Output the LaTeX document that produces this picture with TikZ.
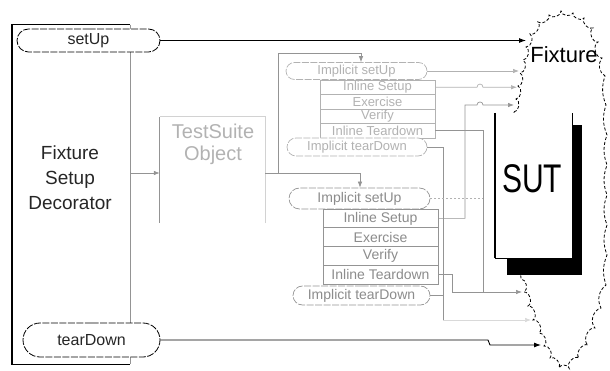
\documentclass[tikz,border=0pt]{standalone}
\usepackage{fontspec}
\setmainfont{Liberation Sans}
\usetikzlibrary{shapes.misc,arrows.meta}
\definecolor{lg}{gray}{0.70}
\definecolor{mg}{gray}{0.58}
\definecolor{ltxt}{gray}{0.70}
\definecolor{mtxt}{gray}{0.55}
\begin{document}
\begin{tikzpicture}[x=1pt,y=-1pt,
  pill/.style={shape=rounded rectangle, draw, dash pattern=on 7pt off 1.5pt, fill=white, inner sep=0pt},
  bigpill/.style={pill, draw=black, line width=0.8pt, text=black!85, font=\fontsize{16}{16}\selectfont},
  pillA/.style={pill, draw=lg, line width=0.7pt, text=ltxt, font=\fontsize{13}{13}\selectfont},
  pillB/.style={pill, draw=mg, line width=0.7pt, text=mtxt, font=\fontsize{14}{14}\selectfont},
  rowA/.style={draw=lg, line width=0.7pt, fill=white, text=ltxt, minimum width=115, minimum height=14.5, inner sep=0pt, font=\fontsize{13}{13}\selectfont},
  rowB/.style={draw=mg, line width=0.7pt, fill=white, text=mtxt, minimum width=115, minimum height=18.75, inner sep=0pt, font=\fontsize{14}{14}\selectfont},
  gconn/.style={draw=mg, line width=0.7pt},
  lconn/.style={draw=lg, line width=0.7pt},
  gtip/.style={-{Latex[length=6pt,width=4.5pt]}},
  ktip/.style={-{Latex[length=7pt,width=5pt]}},
  cloudl/.style={draw=black, line width=0.8pt, dash pattern=on 3pt off 2pt},
  sc/.style={bend right=80}
]
\useasboundingbox (0,0) rectangle (610,371);

% cloud (Fixture)
\draw[cloudl] (514,112) to[sc] (516,99) to[sc] (518,86) to[sc] (520,73)
 to[sc] (523,60) to[sc] (526,47) to[sc] (530,34) to[sc] (538,22)
 to[sc] (549,15) to[sc] (561,11) to[sc] (573,13) to[sc] (584,18)
 to[sc] (593,28) to[sc] (598,42) to[sc] (602,58) to[bend right=50] (605,76)
 to[bend right=20] (606,105) to[bend right=20] (607,135) to[bend right=20] (607,165) to[bend right=20] (607,195)
 to[bend right=20] (607,225) to[bend right=20] (607,255) to[bend right=20] (606,285) to[bend right=40] (601,308)
 to[bend right=60] (595,328) to[sc] (588,345) to[sc] (579,358) to[sc] (569,368)
 to[sc] (559,368) to[sc] (550,358) to[sc] (544,346) to[sc] (539,333)
 to[sc] (533,320) to[sc] (528,306) to[sc] (524,292) to[sc] (521,279)
 -- (516,200) -- cycle;

% SUT
\fill[black] (507,125) rectangle (582,275);
\node[fill=white, minimum width=77, minimum height=145, inner sep=0pt] (sut) at (533.5,185.5) {};
\draw[line width=1.4pt] (sut.north west) -- (sut.south west);
\draw[line width=0.6pt] (sut.south west) -- (sut.south east) -- (sut.north east);
\node[font=\fontsize{40}{40}\selectfont, inner sep=0pt] (sutt) at (532,179) {\scalebox{0.75}[1]{SUT}};
\node[font=\fontsize{22}{22}\selectfont, inner sep=0pt] (fixt) at (564,55) {Fixture};

% Fixture Setup Decorator frame
\node[minimum width=118, minimum height=339, inner sep=0pt] (fsd) at (71,194.5) {};
\draw[mg, line width=0.7pt] (fsd.north east) -- (fsd.south east);
\draw[line width=1.4pt] (fsd.north east) -- (fsd.north west) -- (fsd.south west) -- (fsd.south east);
\node[align=center, font=\fontsize{19}{25}\selectfont, text=black!85] (fsdt) at (70,178) {Fixture\\Setup\\Decorator};
\node[bigpill, minimum width=143, minimum height=23] (setup) at (88.5,40.5) {setUp};
\node[bigpill, minimum width=137, minimum height=34] (teardown) at (91.5,340) {tearDown};

% TestSuite Object
\node[minimum width=105, minimum height=106, inner sep=0pt] (ts) at (212.5,170) {};
\draw[draw=gray!35, line width=0.7pt] (ts.south east) -- (ts.north east) -- (ts.north west);
\draw[mg, line width=1.1pt] (ts.north west) -- (ts.south west);
\node[text=ltxt, align=center, font=\fontsize{20}{22}\selectfont] (tst) at (213,144.5) {TestSuite\\Object};

% first test
\node[rowA] (r1a) at (377.5,87.25) {Inline Setup};
\node[rowA] (r1b) at (377.5,101.75) {Exercise};
\node[rowA] (r1c) at (377.5,116.25) {Verify};
\node[rowA] (r1d) at (377.5,130.75) {Inline Teardown};
\node[pillA, minimum width=141, minimum height=17] (is1) at (356.5,71) {Implicit setUp};
\node[pillA, minimum width=140, minimum height=18] (it1) at (357,147) {Implicit tearDown};

% second test
\node[rowB] (r2a) at (380.5,218.4) {Inline Setup};
\node[rowB] (r2b) at (380.5,237.1) {Exercise};
\node[rowB] (r2c) at (380.5,255.9) {Verify};
\node[rowB] (r2d) at (380.5,274.6) {Inline Teardown};
\node[pillB, minimum width=141, minimum height=21] (is2) at (359.5,198.5) {Implicit setUp};
\node[pillB, minimum width=137, minimum height=19] (it2) at (361.5,295.5) {Implicit tearDown};

% coordinates
\coordinate (j0) at (130,173);
\coordinate (j1) at (360,173);
\coordinate (j2) at (278,173);
\coordinate (j3) at (361,53);
\coordinate (v3) at (465,105);
\coordinate (v4) at (483,292);
\coordinate (v5) at (452,292);
\coordinate (v6) at (443,320);
\coordinate (c0) at (526,41);
\coordinate (c1) at (519,71);
\coordinate (c2) at (517,87.25);
\coordinate (c3) at (514,105);
\coordinate (c4) at (522,292);
\coordinate (c5) at (531,320);
\coordinate (c6) at (541,345);

% connectors left part
\draw[gconn, gtip] (fsd.east |- j0) -- (ts.west |- j0);
\draw[gconn, gtip] (ts.east |- j0) -- (j1) -- (j1 |- is2.north);
\draw[gconn, gtip] (j2) -- (j2 |- j3) -- (j3) -- (j3 |- is1.north);

% connectors to fixture
\draw[line width=0.9pt, ktip] (setup.east) -- (setup.east -| c0);
\draw[line width=0.9pt, ktip] (teardown.east) -- (488,340) -- (490,345) -- (c6);
\draw[lconn, gtip] (is1.east) -- (is1.east -| c1);
\draw[lconn, gtip] (r1a.east) -- (477,87.25) .. controls (477,83) and (483,83) .. (483,87.25) -- (c2);
\draw[gconn, gtip] (r2a.east) -| (v3) -- (477,105) .. controls (477,101) and (483,101) .. (483,105) -- (c3);
\draw[gconn, gtip] (r1d.east) -| (v4) -- (c4);
\draw[gconn] (r2d.east) -| (v5) -- (v4);
\draw[gconn] (it1.east) -| (v6);
\draw[draw=gray!30, line width=0.6pt, gtip] (v6) -- (c5);
\draw[draw=lg, line width=0.6pt, dash pattern=on 2pt off 2pt] (is2.east) -- (is2.east -| v4);
\draw[gconn] (it2.east) -- (it2.east -| v6);
\end{tikzpicture}
\end{document}
